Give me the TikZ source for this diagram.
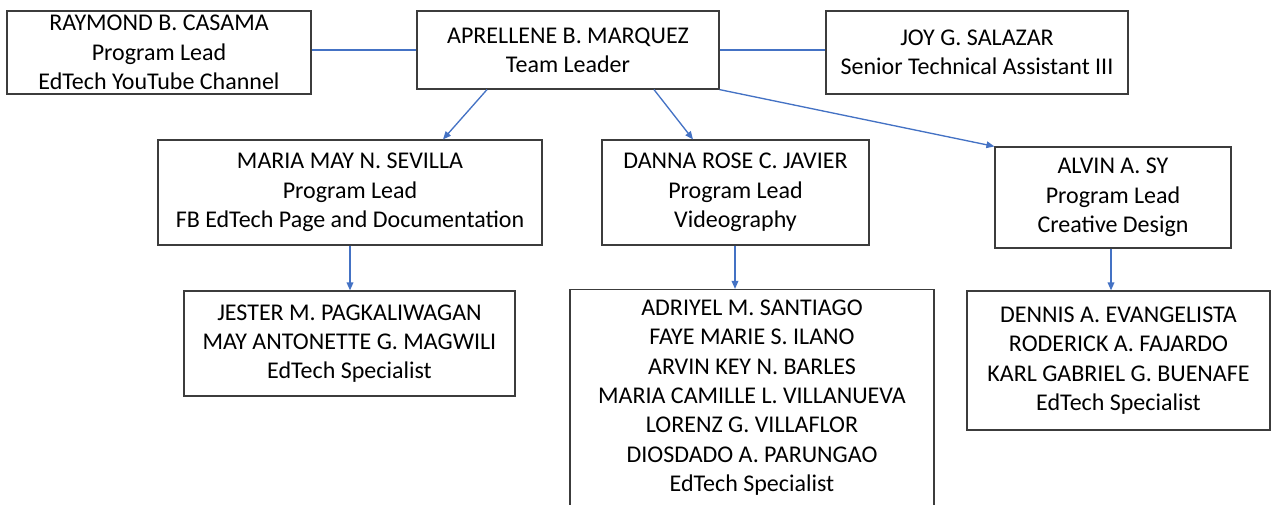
\documentclass[tikz,border=0pt]{standalone}
\usepackage{fontspec}
\setmainfont{Carlito}
\usetikzlibrary{arrows.meta}
\definecolor{boxline}{RGB}{60,60,60}
\definecolor{linkblue}{RGB}{68,114,196}

\begin{document}
\begin{tikzpicture}[x=0.75pt,y=0.75pt,yscale=-1,xscale=1,
  box/.style={draw=boxline,line width=0.9pt,fill=white,align=center,inner sep=0pt,
    font=\fontsize{18pt}{22pt}\selectfont},
  link/.style={draw=linkblue,line width=1pt},
  linkarrow/.style={link,-{Triangle[length=6pt,width=5pt]}}]
\useasboundingbox (0,0) rectangle (1272,504);

% Top row
\node [box,minimum width=228pt,minimum height=62.25pt] (casama) at (159,52.5) {RAYMOND B. CASAMA\\Program Lead\\EdTech YouTube Channel};
\node [box,minimum width=226.5pt,minimum height=58.5pt] (marquez) at (568,50) {APRELLENE B. MARQUEZ\\Team Leader};
\node [box,minimum width=226.5pt,minimum height=62.25pt] (salazar) at (977,52.5) {JOY G. SALAZAR\\Senior Technical Assistant III};

% Program leads
\node [box,minimum width=288pt,minimum height=78.75pt] (sevilla) at (350,192.5) {MARIA MAY N. SEVILLA\\Program Lead\\FB EdTech Page and Documentation};
\node [box,minimum width=200.25pt,minimum height=78.75pt] (javier) at (735.5,192.5) {DANNA ROSE C. JAVIER\\Program Lead\\Videography};
\node [box,minimum width=177pt,minimum height=75.75pt] (sy) at (1113,197.5) {ALVIN A. SY\\Program Lead\\Creative Design};

% Specialists
\node [box,minimum width=248.25pt,minimum height=78.75pt] (pagkaliwagan) at (349.5,343.5) {JESTER M. PAGKALIWAGAN\\MAY ANTONETTE G. MAGWILI\\EdTech Specialist};
\node [box,minimum width=273pt,minimum height=162pt] (santiago) at (752,397.5) {ADRIYEL M. SANTIAGO\\FAYE MARIE S. ILANO\\ARVIN KEY N. BARLES\\MARIA CAMILLE L. VILLANUEVA\\LORENZ G. VILLAFLOR\\DIOSDADO A. PARUNGAO\\EdTech Specialist};
\node [box,minimum width=227.25pt,minimum height=104.25pt] (evangelista) at (1118.5,360.5) {DENNIS A. EVANGELISTA\\RODERICK A. FAJARDO\\KARL GABRIEL G. BUENAFE\\EdTech Specialist};

% Connectors
\draw [link] (marquez.west) -- (marquez.west -| casama.east);
\draw [link] (marquez.east) -- (marquez.east -| salazar.west);
\draw [linkarrow] ([xshift=-60.75pt]marquez.south) -- ([xshift=69.75pt]sevilla.north);
\draw [linkarrow] ([xshift=64.5pt]marquez.south) -- ([xshift=-31.9pt]javier.north);
\draw [linkarrow] (marquez.south east) -- (sy.north west);
\draw [linkarrow] (sevilla.south) -- (sevilla.south |- pagkaliwagan.north);
\draw [linkarrow] ([xshift=-0.375pt]javier.south) -- ([xshift=-0.375pt]javier.south |- santiago.north);
\draw [linkarrow] ([xshift=-1.5pt]sy.south) -- ([xshift=-1.5pt]sy.south |- evangelista.north);

\end{tikzpicture}
\end{document}
